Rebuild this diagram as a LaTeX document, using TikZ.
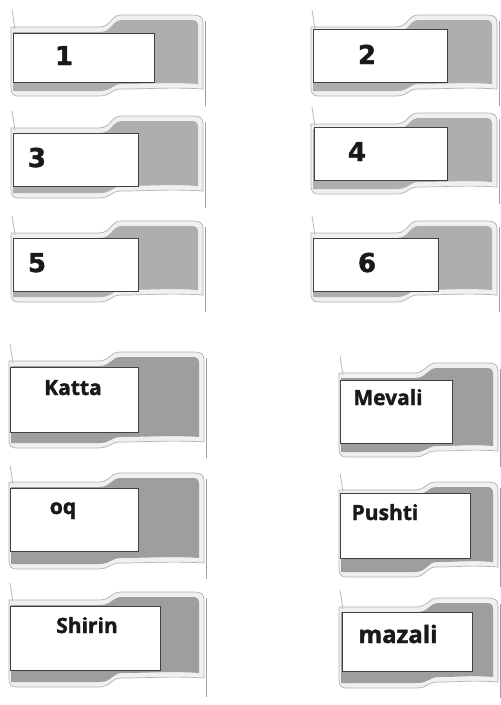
\documentclass[tikz,border=0pt]{standalone}
\usepackage{fontspec}
\setmainfont{Open Sans}[BoldFeatures={FakeBold=1.5}]
\newfontfamily\digitfont{DejaVu Sans}[BoldFeatures={FakeBold=1.5}]
\definecolor{flagA}{RGB}{174,174,177}
\definecolor{flagB}{RGB}{158,158,161}
\definecolor{rim}{RGB}{240,240,242}
\definecolor{rimline}{RGB}{178,178,181}

% #1 left, #2 right, #3 bend, #4 top left, #5 top right, #6 bottom left, #7 bottom right, #8 fill
\newcommand{\flag}[8]{%
  \draw[rimline, fill=rim, line width=0.7pt]
    (#1+1,#4) -- (#3-4,#4) .. controls (#3+8,#4) and (#3+8,#5) .. (#3+18,#5)
    -- (#2-10,#5) .. controls (#2-3,#5) and (#2,#5+2) .. (#2,#5+8)
    -- (#2,#7) .. controls (#2-30,#7-2) and (#3+45,#7) .. (#3+18,#7)
    .. controls (#3+8,#7) and (#3+8,#6) .. (#3-4,#6)
    -- (#1+8,#6) .. controls (#1+3,#6) and (#1+1,#6-3) .. (#1+1,#6-8) -- cycle;
  \fill[#8]
    (#1+3,#4+5) -- (#3-3,#4+5) .. controls (#3+9,#4+5) and (#3+9,#5+5) .. (#3+19,#5+5)
    -- (#2-11,#5+5) .. controls (#2-7,#5+5) and (#2-5,#5+7) .. (#2-5,#5+11)
    -- (#2-5,#7-5) .. controls (#2-30,#7-7) and (#3+45,#7-5) .. (#3+19,#7-5)
    .. controls (#3+9,#7-5) and (#3+9,#6-5) .. (#3-3,#6-5)
    -- (#1+3,#6-5) -- cycle;
  \draw[gray!55, line width=0.8pt] (#1+2,#4-17) -- (#1+5,#4+2);
  \draw[gray!75, line width=0.9pt] (#2+2,#5+6) -- (#2+2,#6+10);
}

\tikzset{
  flagbox/.style={draw=black!75, fill=white, line width=0.9pt, inner sep=0pt},
  numlabel/.style={font=\digitfont\bfseries\fontsize{26}{26}\selectfont, text=black!90, anchor=base},
  wordlabel/.style={font=\bfseries\fontsize{21}{21}\selectfont, text=black!90, anchor=base}
}

\begin{document}
\begin{tikzpicture}[x=1pt, y=-1pt]

\fill[white] (0,0) rectangle (501,705);
\useasboundingbox (0,0) rectangle (501,705);

% Bayroqlar
\flag{10}{203}{103}{27}{15}{96}{89}{flagA}
\flag{310}{497}{400}{27}{15}{96}{89}{flagA}
\flag{10}{203}{103}{128}{116}{198}{191}{flagA}
\flag{310}{497}{400}{124}{113}{194}{187}{flagA}
\flag{10}{203}{103}{233}{221}{302}{295}{flagA}
\flag{310}{497}{400}{233}{221}{302}{295}{flagA}

\flag{8}{204}{102}{361}{352}{448}{442}{flagB}
\flag{338}{498}{418}{373}{363}{457}{451}{flagB}
\flag{8}{204}{102}{482}{473}{569}{563}{flagB}
\flag{338}{498}{418}{490}{482}{577}{567}{flagB}
\flag{8}{204}{103}{600}{592}{687}{678}{flagB}
\flag{338}{498}{420}{607}{598}{688}{682}{flagB}

% Kataklar
\node[flagbox, minimum width=141pt, minimum height=49pt] (box1) at (83.5,57.5) {};
\node[flagbox, minimum width=134pt, minimum height=53pt] (box2) at (380,55.5) {};
\node[flagbox, minimum width=125pt, minimum height=53pt] (box3) at (75.5,159.5) {};
\node[flagbox, minimum width=133pt, minimum height=53pt] (box4) at (380.5,153.5) {};
\node[flagbox, minimum width=125pt, minimum height=53pt] (box5) at (75.5,264.5) {};
\node[flagbox, minimum width=125pt, minimum height=53pt] (box6) at (375.5,264.5) {};

\node[flagbox, minimum width=128pt, minimum height=65pt] (katta) at (74,399.5) {};
\node[flagbox, minimum width=112pt, minimum height=63pt] (mevali) at (396,411.5) {};
\node[flagbox, minimum width=128pt, minimum height=63pt] (oq) at (74,519.5) {};
\node[flagbox, minimum width=130pt, minimum height=65pt] (pushti) at (405,525.5) {};
\node[flagbox, minimum width=150pt, minimum height=64pt] (shirin) at (85,638) {};
\node[flagbox, minimum width=130pt, minimum height=59pt] (mazali) at (407,641.5) {};

% Yozuvlar
\node[numlabel] (n1) at (64,65) {1};
\node[numlabel] (n2) at (367,64) {2};
\node[numlabel] (n3) at (37,167) {3};
\node[numlabel] (n4) at (357,161) {4};
\node[numlabel] (n5) at (37,272) {5};
\node[numlabel] (n6) at (367,272) {6};

\node[wordlabel] (w1) at (73,395) {Katta};
\node[wordlabel] (w2) at (388,405) {Mevali};
\node[wordlabel] (w3) at (63,514) {oq};
\node[wordlabel] (w4) at (385,520) {Pushti};
\node[wordlabel] (w5) at (87,633) {Shirin};
\node[wordlabel, font=\bfseries\fontsize{24}{24}\selectfont] (w6) at (398,643) {mazali};

\end{tikzpicture}
\end{document}
